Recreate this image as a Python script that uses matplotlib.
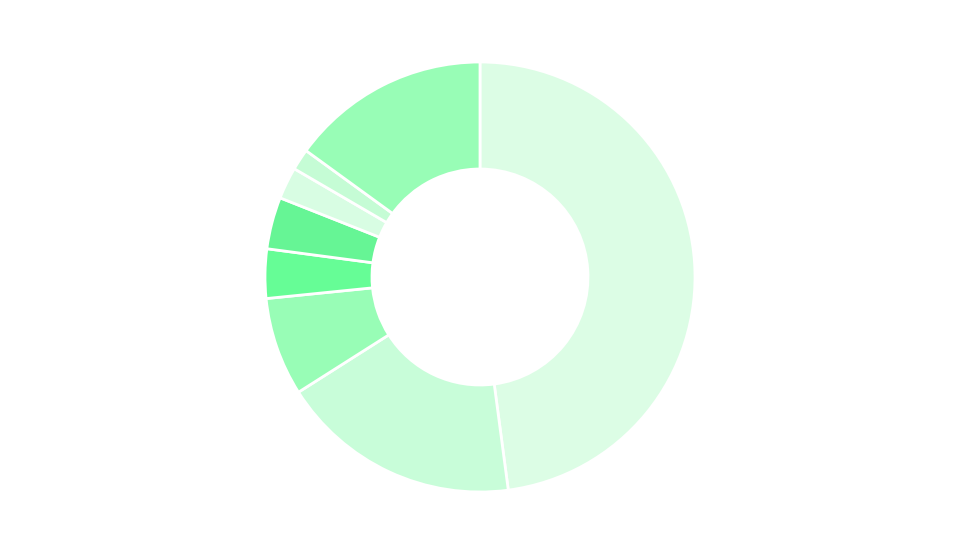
import matplotlib
matplotlib.use("Agg")
import matplotlib.pyplot as plt

# slice shares (clockwise from 12 o'clock)
labels = ["A", "B", "C", "D", "E", "F", "G", "H"]
values = [47.9, 18.1, 7.4, 3.7, 3.9, 2.4, 1.6, 15.0]
colors = ["#dcfde5", "#c8fdd9", "#98fdb6", "#66fd96",
          "#66f595", "#d8fde3", "#c5fcd5", "#98fdb6"]

fig = plt.figure(figsize=(9.6, 5.4), dpi=100)
ax = fig.add_axes([0, 0, 1, 1])
ax.set_xlim(0, 960)
ax.set_ylim(0, 540)
ax.set_aspect("equal")
ax.axis("off")

wedges, _ = ax.pie(values, colors=colors, startangle=90, counterclock=False,
                   center=(480, 263), radius=215,
                   wedgeprops=dict(width=107, edgecolor="white", linewidth=2,
                                   joinstyle="round"))
ax.set_xlim(0, 960)
ax.set_ylim(0, 540)

fig.savefig("out.png", dpi=100, facecolor="white")
